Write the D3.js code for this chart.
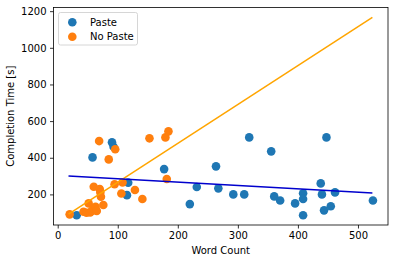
<!DOCTYPE html>
<html>
<head>
<meta charset="utf-8">
<script src="https://cdn.jsdelivr.net/npm/d3@7"></script>
<style>
  body { margin: 0; background: #fff; }
  text { font-family: "DejaVu Sans", sans-serif; }
</style>
</head>
<body>
<div id="chart"></div>
<script>
// word count / completion time
var pasteX = [31.6, 58, 90.4, 93, 115.3, 117.4, 177.2, 220, 231.6, 263.6, 267.5, 292.4, 310.6, 318.9,
              355.5, 360.5, 370.4, 395.3, 408.6, 408.6, 408.6, 438, 440, 443.5, 447.5, 454.7, 461.8, 524.9];
var pasteY = [86, 402, 484, 460, 196, 264, 338, 147, 240, 353, 233, 200, 200, 511,
              435, 189, 167, 151, 206, 175, 86, 260, 200, 113, 511, 135, 211, 167];

var noPasteX = [19.9, 43, 48, 51.5, 54, 57, 60, 63, 65, 60, 69, 70, 71, 72, 76, 85,
                95.8, 94.7, 106, 108, 128.6, 141, 152.8, 179.4, 184.4, 181.6];
var noPasteY = [91, 105, 100, 151, 102, 110, 124, 133, 110, 242, 491, 229, 211, 187, 142, 391,
                446, 255, 205, 265, 224, 175, 506, 511, 544, 284];

// fitted lines (end points)
var fitX = [18, 524];
var pasteFit = [301, 208];
var noPasteFit = [92, 1166];

var xTicks = [0, 100, 200, 300, 400, 500];
var yTicks = [200, 400, 600, 800, 1000, 1200];
var seriesNames = ["Paste", "No Paste"];
var colors = ["#1f77b4", "#ff7f0e"];

function init(){
    var w = 395, h = 263;
    var margin = {left: 53.5, right: 7, top: 7.5, bottom: 38};

    var svg = d3.select("#chart").append("svg")
        .attr("width", w)
        .attr("height", h);

    var x = d3.scaleLinear().domain([-7, 550]).range([margin.left, w - margin.right]);
    var y = d3.scaleLinear().domain([33, 1220]).range([h - margin.bottom, margin.top]);

    // points
    var pts = [];
    pasteX.forEach(function(d, i){ pts.push({x: d, y: pasteY[i], s: 0}); });
    noPasteX.forEach(function(d, i){ pts.push({x: d, y: noPasteY[i], s: 1}); });

    svg.selectAll("circle.pt")
        .data(pts)
        .enter()
        .append("circle")
        .attr("class", "pt")
        .attr("cx", function(d){ return x(d.x); })
        .attr("cy", function(d){ return y(d.y); })
        .attr("r", 4.3)
        .style("fill", function(d){ return colors[d.s]; });

    // fit lines
    var line = d3.line()
        .x(function(d){ return x(d[0]); })
        .y(function(d){ return y(d[1]); });

    svg.append("path")
        .datum(fitX.map(function(d, i){ return [d, noPasteFit[i]]; }))
        .attr("d", line)
        .attr("fill", "none")
        .attr("stroke", "orange")
        .attr("stroke-width", 1.5);

    svg.append("path")
        .datum(fitX.map(function(d, i){ return [d, pasteFit[i]]; }))
        .attr("d", line)
        .attr("fill", "none")
        .attr("stroke", "#0000cd")
        .attr("stroke-width", 1.5);

    // axes
    var xAxis = svg.append("g")
        .attr("transform", "translate(0," + (h - margin.bottom) + ")")
        .call(d3.axisBottom(x).tickValues(xTicks).tickSize(3.5).tickPadding(3.5).tickFormat(d3.format("d")));
    var yAxis = svg.append("g")
        .attr("transform", "translate(" + margin.left + ",0)")
        .call(d3.axisLeft(y).tickValues(yTicks).tickSize(3.5).tickPadding(3.5).tickFormat(d3.format("d")));

    [xAxis, yAxis].forEach(function(a){
        a.select(".domain").remove();
        a.selectAll("text").style("font-size", "10px").style("fill", "#000")
            .style("font-family", "DejaVu Sans");
        a.selectAll("line").attr("stroke", "#000").attr("stroke-width", 0.8);
    });

    // frame
    svg.append("rect")
        .attr("x", margin.left)
        .attr("y", margin.top)
        .attr("width", w - margin.right - margin.left)
        .attr("height", h - margin.bottom - margin.top)
        .attr("fill", "none")
        .attr("stroke", "#000")
        .attr("stroke-width", 0.8);

    // axis labels
    svg.append("text")
        .attr("x", (margin.left + w - margin.right) / 2)
        .attr("y", 253.5)
        .attr("text-anchor", "middle")
        .style("font-size", "10px")
        .text("Word Count");

    svg.append("text")
        .attr("transform", "translate(13.5," + ((margin.top + h - margin.bottom) / 2) + ") rotate(-90)")
        .attr("text-anchor", "middle")
        .style("font-size", "10px")
        .text("Completion Time [s]");

    // legend
    svg.append("rect")
        .attr("x", 58.5).attr("y", 12.5)
        .attr("width", 79).attr("height", 32.5)
        .attr("rx", 2)
        .attr("fill", "#fff").attr("fill-opacity", 0.8)
        .attr("stroke", "#ccc").attr("stroke-width", 0.8);

    svg.selectAll("legdots")
        .data(seriesNames)
        .enter()
        .append("circle")
        .attr("cx", 72.3)
        .attr("cy", function(d, i){ return 22.3 + i * 14.4; })
        .attr("r", 4.3)
        .style("fill", function(d, i){ return colors[i]; });

    svg.selectAll("leglabels")
        .data(seriesNames)
        .enter()
        .append("text")
        .attr("x", 90)
        .attr("y", function(d, i){ return 22.3 + i * 14.4; })
        .attr("dy", "0.35em")
        .style("font-size", "10px")
        .text(function(d){ return d; });
}
window.onload = init;
</script>
</body>
</html>
